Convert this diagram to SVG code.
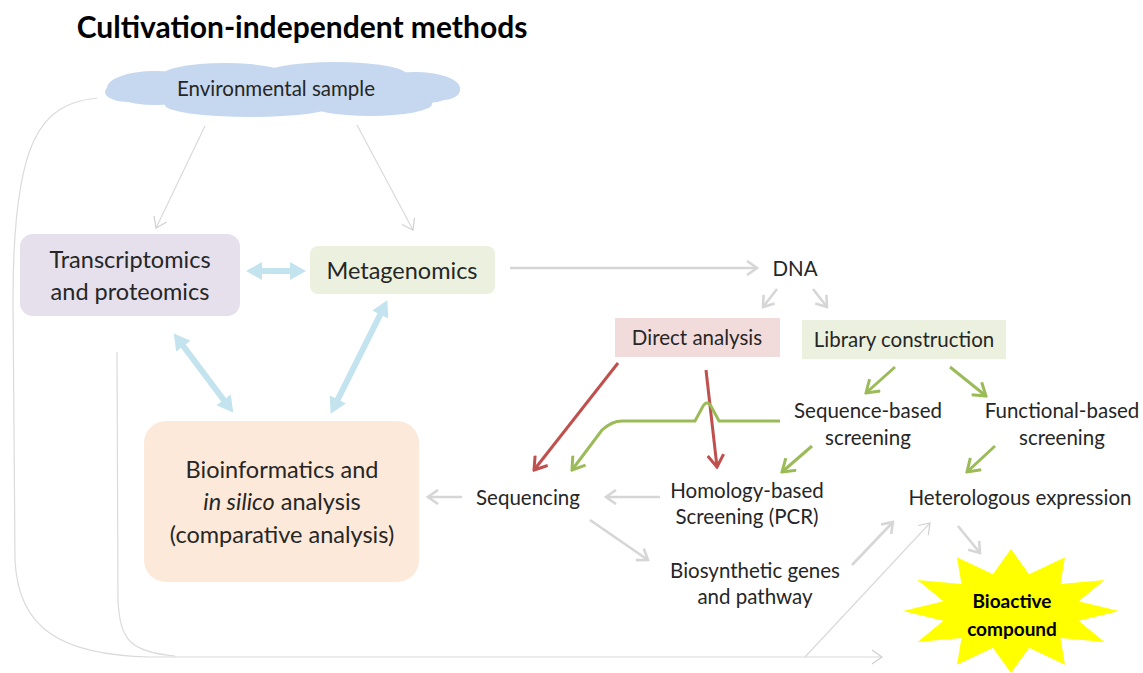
<svg xmlns="http://www.w3.org/2000/svg" width="1143" height="673" viewBox="0 0 1143 673">
<style>
text{font-family:Lato,"Liberation Sans",sans-serif;fill:#262626;text-anchor:middle}
.t{font-size:20.5px}
.b{font-size:23.5px}
.g{fill:none;stroke:#d6d6d6;stroke-width:2.6}
.thin{fill:none;stroke:#dadada;stroke-width:1.2}
.red{fill:none;stroke:#c0504d;stroke-width:3}
.grn{fill:none;stroke:#9bbb59;stroke-width:3}
.blu{fill:none;stroke:#c3e3ef;stroke-width:6}
</style>
<defs>
<marker id="ag" markerUnits="userSpaceOnUse" viewBox="0 0 14 16" markerWidth="14" markerHeight="16" refX="12" refY="8" orient="auto"><path d="M2,1 L12,8 L2,15" fill="none" stroke="#d6d6d6" stroke-width="2.6"/></marker>
<marker id="at" markerUnits="userSpaceOnUse" viewBox="0 0 14 16" markerWidth="14" markerHeight="16" refX="12" refY="8" orient="auto"><path d="M2,1 L12,8 L2,15" fill="none" stroke="#d0d0d0" stroke-width="1.2"/></marker>
<marker id="ar" markerUnits="userSpaceOnUse" viewBox="0 0 16 18" markerWidth="16" markerHeight="18" refX="14" refY="9" orient="auto"><path d="M2,1 L14,9 L2,17" fill="none" stroke="#c0504d" stroke-width="3"/></marker>
<marker id="agr" markerUnits="userSpaceOnUse" viewBox="0 0 16 18" markerWidth="16" markerHeight="18" refX="14" refY="9" orient="auto"><path d="M2,1 L14,9 L2,17" fill="none" stroke="#9bbb59" stroke-width="3"/></marker>
<marker id="ab" markerUnits="userSpaceOnUse" viewBox="0 0 16 18" markerWidth="16" markerHeight="18" refX="4" refY="9" orient="auto-start-reverse"><path d="M0,0 L16,9 L0,18 Z" fill="#c3e3ef"/></marker>
</defs>

<text x="302" y="38" style="font-size:30px;font-weight:bold;fill:#000">Cultivation-independent methods</text>

<g id="connectors">
<path class="thin" d="M97,98 C40,104 13,140 13,300 L15,560 C18,628 60,655 150,657 L882,657" marker-end="url(#at)"/>
<path class="thin" d="M117,352 L118,600 C120,640 130,652 175,656"/>
<path class="thin" d="M805,657 L930,523" marker-end="url(#at)"/>
<path class="thin" d="M205,126 L156,228" marker-end="url(#at)"/>
<path class="thin" d="M357,125 L413,230" marker-end="url(#at)"/>
<path class="blu" d="M258,271 L294,271" marker-start="url(#ab)" marker-end="url(#ab)"/>
<path class="blu" d="M181,343 L226,403" marker-start="url(#ab)" marker-end="url(#ab)"/>
<path class="blu" d="M382,311 L336,403" marker-start="url(#ab)" marker-end="url(#ab)"/>
<path class="g" d="M510,268 L757,268" marker-end="url(#ag)"/>
<path class="g" d="M777,289 L763,307" marker-end="url(#ag)"/>
<path class="g" d="M813,289 L827,307" marker-end="url(#ag)"/>
<path class="red" d="M618,363 L534,470" marker-end="url(#ar)"/>
<path class="red" d="M706,370 L717,467" marker-end="url(#ar)"/>
<path class="grn" d="M895,367 L866,393" marker-end="url(#agr)"/>
<path class="grn" d="M950,367 L986,396" marker-end="url(#agr)"/>
<path class="grn" d="M812,446 L782,472" marker-end="url(#agr)"/>
<path class="grn" d="M995,446 L967,472" marker-end="url(#agr)"/>
<path class="grn" d="M780,421 L719,421 L712,408 Q707,398 702,408 L695,421 L622,421 Q612,421 602,430 L572,470" marker-end="url(#agr)"/>
<path class="g" d="M660,497 L606,497" marker-end="url(#ag)"/>
<path class="g" d="M462,497 L428,497" marker-end="url(#ag)"/>
<path class="g" d="M590,520 L648,560" marker-end="url(#ag)"/>
<path class="g" d="M852,565 L893,522" marker-end="url(#ag)"/>
<path class="g" d="M958,526 L980,553" marker-end="url(#ag)"/>
</g>

<g id="env">
<g fill="#c5d8f0">
<ellipse cx="280" cy="90" rx="150" ry="20"/>
<ellipse cx="155" cy="88" rx="48" ry="17"/>
<ellipse cx="415" cy="88" rx="45" ry="16"/>
<ellipse cx="225" cy="77" rx="65" ry="14"/>
<ellipse cx="335" cy="75" rx="72" ry="13"/>
<ellipse cx="250" cy="105" rx="85" ry="12"/>
<ellipse cx="370" cy="104" rx="62" ry="12"/>
<ellipse cx="128" cy="92" rx="23" ry="10"/>
<ellipse cx="443" cy="90" rx="17" ry="10"/>
</g>
<text class="t" x="276" y="96">Environmental sample</text>
</g>

<g id="transcriptomics">
<rect x="20" y="234" width="220" height="82" rx="13" fill="#e5e0ec"/>
<text class="b" x="130" y="268">Transcriptomics</text>
<text class="b" x="130" y="300">and proteomics</text>
</g>

<g id="metagenomics">
<rect x="310" y="246" width="185" height="48" rx="8" fill="#ebf1de"/>
<text class="b" x="402" y="279">Metagenomics</text>
</g>

<g id="bioinformatics">
<rect x="144" y="421" width="275" height="161" rx="22" fill="#fde9d9"/>
<text class="b" x="282" y="478">Bioinformatics and</text>
<text class="b" x="282" y="510"><tspan font-style="italic">in silico</tspan> analysis</text>
<text class="b" x="282" y="543">(comparative analysis)</text>
</g>

<g id="dna"><text class="t" x="795" y="276">DNA</text></g>

<g id="direct">
<rect x="615" y="318" width="165" height="39" fill="#f2dcdb"/>
<text class="t" x="697" y="345">Direct analysis</text>
</g>

<g id="library">
<rect x="802" y="320" width="204" height="39" fill="#ebf1de"/>
<text class="t" x="904" y="347">Library construction</text>
</g>

<g id="seqscreen">
<text class="t" x="868" y="418">Sequence-based</text>
<text class="t" x="868" y="445">screening</text>
</g>

<g id="funcscreen">
<text class="t" x="1062" y="418">Functional-based</text>
<text class="t" x="1062" y="445">screening</text>
</g>

<g id="sequencing"><text class="t" x="528" y="505">Sequencing</text></g>

<g id="homology">
<text class="t" x="747" y="498">Homology-based</text>
<text class="t" x="747" y="524">Screening (PCR)</text>
</g>

<g id="heterologous"><text class="t" x="1020" y="505">Heterologous expression</text></g>

<g id="biosynthetic">
<text class="t" x="755" y="578">Biosynthetic genes</text>
<text class="t" x="755" y="604">and pathway</text>
</g>

<g id="bioactive">
<polygon fill="#ffff00" points="1119,611 1078.6,620.8 1104.5,642 1060.5,637.9 1065,664.7 1029.1,647.7 1011,673 992.9,647.7 957,664.7 961.5,637.9 917.5,642 943.4,620.8 903,611 943.4,601.2 917.5,580 961.5,584.1 957,557.3 992.9,574.3 1011,549 1029.1,574.3 1065,557.3 1060.5,584.1 1104.5,580 1078.6,601.2"/>
<text x="1012" y="608" style="font-size:19px;font-weight:bold;fill:#000">Bioactive</text>
<text x="1012" y="636" style="font-size:19px;font-weight:bold;fill:#000">compound</text>
</g>
</svg>
